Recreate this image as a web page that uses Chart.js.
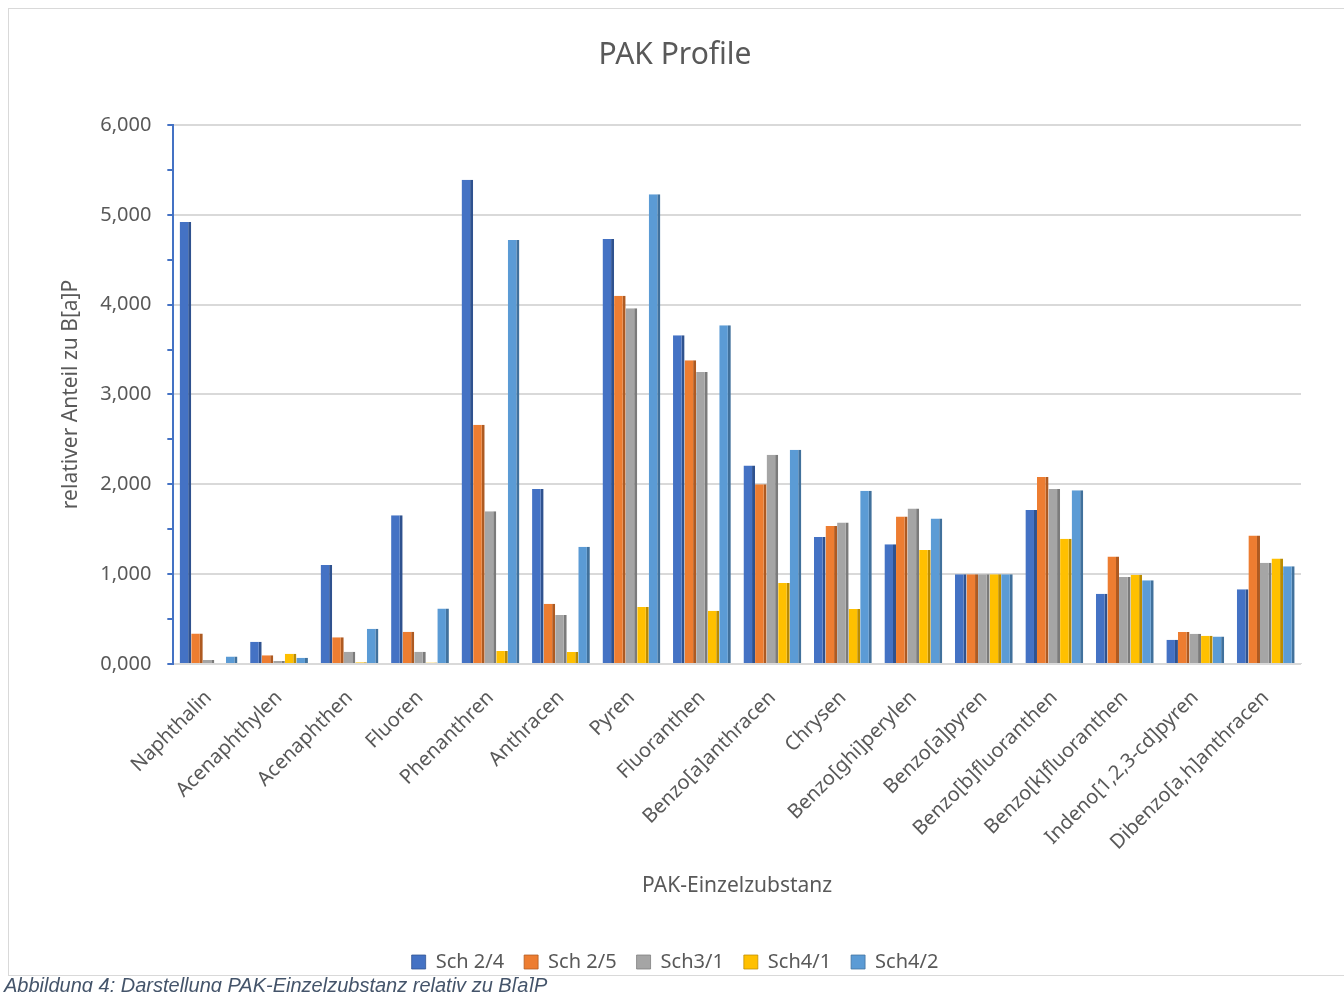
<!DOCTYPE html>
<html lang="de">
<head>
<meta charset="UTF-8">
<title>PAK Profile</title>
<script src="https://cdn.jsdelivr.net/npm/chart.js"></script>
<style>
  body { margin: 0; background: #fff; width: 1344px; height: 992px; overflow: hidden; position: relative; }
  .rahmen { position: absolute; left: 8px; top: 8px; width: 1340px; height: 966px; border: 1px solid #d9d9d9; }
  #pak { position: absolute; left: 9px; top: 9px; }
  .caption { position: absolute; left: 4px; top: 974px; font-family: "Liberation Sans", Arial, sans-serif; font-style: italic; font-size: 20px; color: #44546a; white-space: nowrap; }
</style>
</head>
<body>
<div class="rahmen"></div>
<canvas id="pak"></canvas>
<div class="caption">Abbildung 4: Darstellung PAK-Einzelzubstanz relativ zu B[a]P</div>
<script>
// Substanzen (x-Achse)
const substanzen = ['Naphthalin', 'Acenaphthylen', 'Acenaphthen', 'Fluoren', 'Phenanthren', 'Anthracen',
  'Pyren', 'Fluoranthen', 'Benzo[a]anthracen', 'Chrysen', 'Benzo[ghi]perylen', 'Benzo[a]pyren',
  'Benzo[b]fluoranthen', 'Benzo[k]fluoranthen', 'Indeno[1,2,3-cd]pyren', 'Dibenzo[a,h]anthracen'];

// Werte relativ zu B[a]P
const sch24 = [4920, 248, 1103, 1656, 5390, 1947, 4730, 3660, 2210, 1414, 1332, 1000, 1715, 781, 270, 833];
const sch25 = [338, 96, 297, 359, 2663, 671, 4100, 3380, 2000, 1537, 1642, 1000, 2081, 1196, 356, 1430];
const sch31 = [45, 33, 137, 137, 1700, 544, 3960, 3250, 2330, 1575, 1731, 1000, 1948, 967, 337, 1126];
const sch41 = [10, 115, 20, 15, 144, 133, 634, 593, 900, 612, 1269, 1000, 1393, 993, 315, 1174];
const sch42 = [83, 70, 391, 617, 4720, 1304, 5230, 3770, 2385, 1929, 1619, 1000, 1933, 933, 307, 1089];

const yTickLabels = ['0,000', '1,000', '2,000', '3,000', '4,000', '5,000', '6,000'];

const schriftFarbe = '#595959';
const fontName = '"Noto Sans", "Open Sans", sans-serif';

function reihe(name, werte, farbe, seite) {
  return {
    label: name,
    data: werte,
    backgroundColor: farbe,
    borderColor: seite,
    borderWidth: { top: 0, right: 3, bottom: 0, left: 0 },
    borderSkipped: false,
    categoryPercentage: 0.82,
    barPercentage: 1.0
  };
}

const ctx = document.getElementById('pak');
ctx.width = 1340;
ctx.height = 983;

new Chart(ctx, {
  type: 'bar',
  data: {
    labels: substanzen,
    datasets: [
      reihe('Sch 2/4', sch24, '#4472c4', '#2f528f'),
      reihe('Sch 2/5', sch25, '#ed7d31', '#ae5a21'),
      reihe('Sch3/1', sch31, '#a5a5a5', '#7b7b7b'),
      reihe('Sch4/1', sch41, '#ffc000', '#bc8c00'),
      reihe('Sch4/2', sch42, '#5b9bd5', '#41719c')
    ]
  },
  options: {
    responsive: false,
    animation: false,
    layout: { padding: { left: 40, right: 48, top: 14, bottom: 10 } },
    plugins: {
      title: {
        display: true,
        text: 'PAK Profile',
        color: schriftFarbe,
        font: { family: fontName, size: 30, weight: 'normal' },
        padding: { top: 14, bottom: 52 }
      },
      legend: {
        position: 'bottom',
        labels: {
          color: schriftFarbe,
          font: { family: fontName, size: 20 },
          boxWidth: 14,
          boxHeight: 14,
          padding: 20
        }
      },
      tooltip: { enabled: false }
    },
    scales: {
      x: {
        grid: { display: false },
        border: { color: '#d9d9d9' },
        ticks: {
          color: schriftFarbe,
          font: { family: fontName, size: 20 },
          maxRotation: 45,
          minRotation: 45,
          autoSkip: false,
          padding: 14
        },
        title: {
          display: true,
          text: 'PAK-Einzelzubstanz',
          color: schriftFarbe,
          font: { family: fontName, size: 21 },
          padding: { top: 5, bottom: 33 }
        }
      },
      y: {
        min: 0,
        max: 6000,
        border: { color: '#4472c4', width: 2 },
        grid: {
          color: c => (c.tick && c.tick.value % 1000 === 0) ? '#d9d9d9' : 'rgba(0,0,0,0)',
          lineWidth: 2,
          tickColor: '#4472c4',
          tickLength: 6
        },
        ticks: {
          stepSize: 500,
          color: schriftFarbe,
          font: { family: fontName, size: 20 },
          padding: 16,
          callback: v => (v % 1000 === 0) ? yTickLabels[v / 1000] : ''
        },
        title: {
          display: true,
          text: 'relativer Anteil zu B[a]P',
          color: schriftFarbe,
          font: { family: fontName, size: 21 },
          padding: { top: 9, bottom: 1 }
        }
      }
    }
  }
});
</script>
</body>
</html>
